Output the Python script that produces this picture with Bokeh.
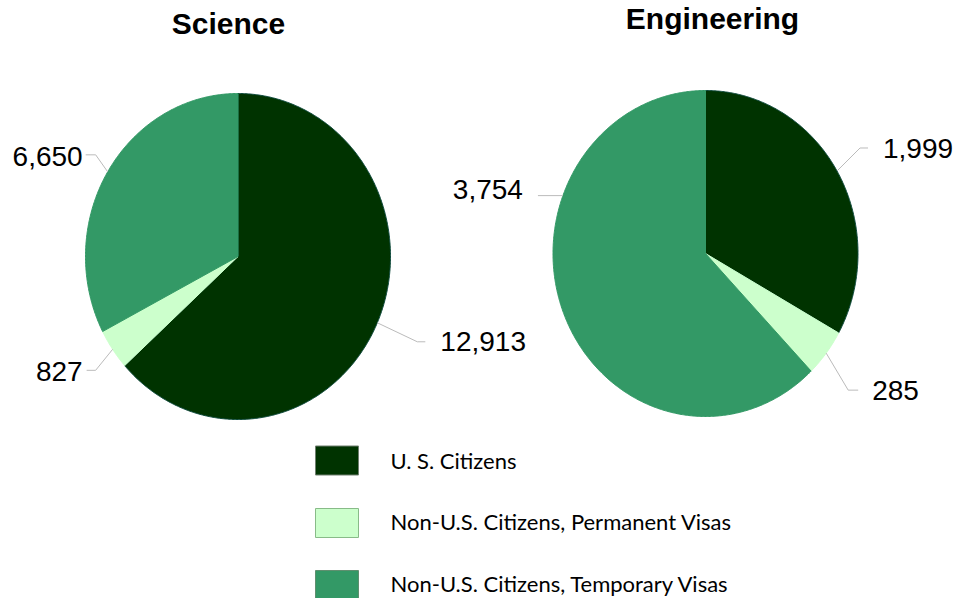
import math
from bokeh.plotting import figure
from bokeh.models import Range1d
from bokeh.core.properties import value
from bokeh.embed import file_html
from bokeh.resources import INLINE

# ---- data ----
categories = ["U. S. Citizens", "Non-U.S. Citizens, Permanent Visas", "Non-U.S. Citizens, Temporary Visas"]
science_values = [12913, 827, 6650]
engineering_values = [1999, 285, 3754]
pie_titles = ["Science", "Engineering"]

# ---- styles / layout ----
colors = ["#003300", "#ccffcc", "#339966"]
edge_colors = ["#0e4a3c", "#ccffcc", "#339966"]
legend_borders = ["#6f7f6f", "#88bb88", "#5f8f6f"]
W, H = 955, 598
BASE_FIX = 0.39  # em shift that puts the drawn baseline where wanted

pies = [
    dict(values=science_values, title=pie_titles[0], cx=237.5, cy=256, rx=152.5, ry=163,
         title_x=228, title_y=35,
         # per slice: (angle override, elbow dx, elbow dy, tail dx, text dx, text dy, align)
         labels=[(None, 40, 19, 8, 15, 11, "left"),
                 (None, -17, 21, -9, -4, 12, "right"),
                 (None, -12, -17, -10, -3, 13, "right")]),
    dict(values=engineering_values, title=pie_titles[1], cx=705, cy=253, rx=152.5, ry=163,
         title_x=712, title_y=30,
         labels=[(None, 23, -23, 8, 15, 11, "left"),
                 (None, 22, 37, 10, 14, 11, "left"),
                 (159.2, 0, 0, -25, -15, 5, "right")]),
]

p = figure(width=W, height=H, x_range=Range1d(0, W), y_range=Range1d(H, 0),
           output_backend="svg", toolbar_location=None, min_border=0)
p.axis.visible = False
p.grid.visible = False
p.outline_line_color = None
p.background_fill_color = "white"

NUM_FONT = value("Liberation Sans")
NUM_SIZE = 28
TITLE_SIZE = 30
LEG_SIZE = 22

for pie in pies:
    vals = pie["values"]
    total = float(sum(vals))
    cx, cy, rx, ry = pie["cx"], pie["cy"], pie["rx"], pie["ry"]
    cum = 0.0
    xs_all, ys_all = [], []
    lx0, ly0, lx1, ly1 = [], [], [], []
    tx, ty, tt, ta = [], [], [], []
    for i, v in enumerate(vals):
        a0 = 90.0 - cum / total * 360.0
        a1 = 90.0 - (cum + v) / total * 360.0
        cum += v
        n = max(4, int(abs(a1 - a0) * 2))
        xs = [cx]
        ys = [cy]
        for k in range(n + 1):
            t = math.radians(a0 + (a1 - a0) * k / n)
            xs.append(cx + rx * math.cos(t))
            ys.append(cy - ry * math.sin(t))
        xs_all.append(xs)
        ys_all.append(ys)
        # label leader
        ov, edx, edy, tdx, txd, tyd, al = pie["labels"][i]
        am = math.radians(ov if ov is not None else (a0 + a1) / 2.0)
        sx = cx + rx * math.cos(am)
        sy = cy - ry * math.sin(am)
        ex, ey = sx + edx, sy + edy
        fx = ex + tdx
        lx0 += [sx, ex]; ly0 += [sy, ey]; lx1 += [ex, fx]; ly1 += [ey, ey]
        tx.append(fx + txd)
        ty.append(ey + tyd - BASE_FIX * NUM_SIZE)
        tt.append(f"{v:,}")
        ta.append(al)
    p.patches(xs_all, ys_all, fill_color=colors, line_color=edge_colors, line_width=1)
    p.segment(lx0, ly0, lx1, ly1, line_color="#bbbbbb", line_width=1)
    for x, y, t, a in zip(tx, ty, tt, ta):
        p.text([x], [y], text=[t], text_font=NUM_FONT, text_font_size=f"{NUM_SIZE}px",
               text_align=a, text_baseline="alphabetic", text_color="#000000")
    p.text([pie["title_x"]], [pie["title_y"] - BASE_FIX * TITLE_SIZE], text=[pie["title"]],
           text_font=NUM_FONT, text_font_size=f"{TITLE_SIZE}px", text_font_style="bold",
           text_align="center", text_baseline="alphabetic", text_color="#000000")

# ---- legend ----
leg_x = 336.5
leg_y = [460, 522.5, 584.5]
leg_text_y = [469, 530, 592]
p.rect([leg_x] * 3, leg_y, width=43, height=29, fill_color=colors,
       line_color=legend_borders, line_width=1)
p.text([390] * 3, [y - BASE_FIX * LEG_SIZE for y in leg_text_y], text=categories,
       text_font=value("Lato"), text_font_size=f"{LEG_SIZE}px", text_align="left",
       text_baseline="alphabetic", text_color="#000000")

open("out.html", "w").write(file_html(p, INLINE))
